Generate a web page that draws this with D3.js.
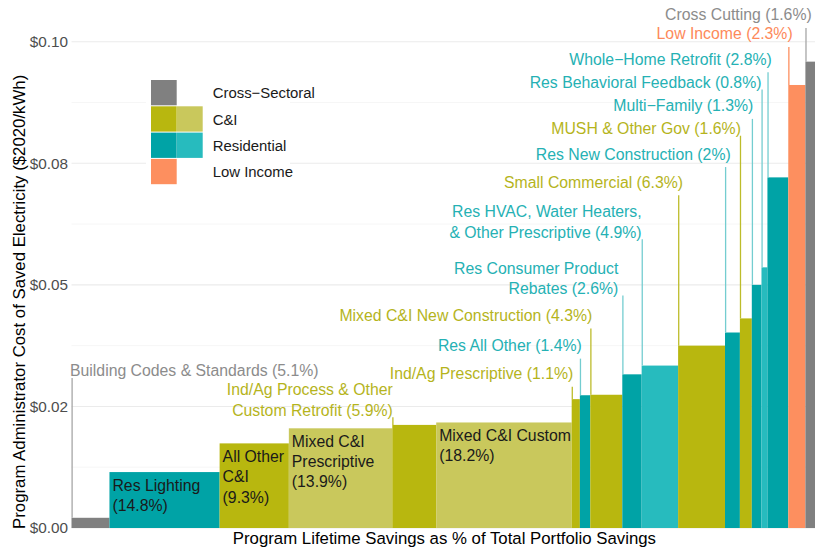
<!DOCTYPE html>
<html>
<head>
<meta charset="utf-8">
<script src="https://cdn.jsdelivr.net/npm/d3@7"></script>
<style>
  body { margin: 0; background: #fff; }
  text { font-family: "Liberation Sans", Arial, Helvetica, sans-serif; }
</style>
</head>
<body>
<svg id="chart" width="815" height="548"></svg>
<script>
// programs, left to right (line breaks are where the label wraps)
const programs = [
  "Building Codes & Standards", "Res Lighting", "All Other\nC&I", "Mixed C&I\nPrescriptive",
  "Ind/Ag Process & Other\nCustom Retrofit", "Mixed C&I Custom", "Ind/Ag Prescriptive",
  "Res All Other", "Mixed C&I New Construction", "Res Consumer Product\nRebates",
  "Res HVAC, Water Heaters,\n& Other Prescriptive", "Small Commercial", "Res New Construction",
  "MUSH & Other Gov", "Multi\u2212Family", "Res Behavioral Feedback", "Whole\u2212Home Retrofit",
  "Low Income", "Cross Cutting"
];
const sectors = [
  "Cross-Sectoral", "Residential", "C&I", "C&I", "C&I", "C&I", "C&I", "Residential", "C&I",
  "Residential", "Residential", "C&I", "Residential", "C&I", "Residential", "Residential",
  "Residential", "Low Income", "Cross-Sectoral"
];
// share of lifetime savings (%)
const shares = [5.1, 14.8, 9.3, 13.9, 5.9, 18.2, 1.1, 1.4, 4.3, 2.6, 4.9, 6.3, 2, 1.6, 1.3, 0.8, 2.8, 2.3, 1.6];
// cost of saved electricity ($2020/kWh)
const costs = [0.0021, 0.0115, 0.0174, 0.0205, 0.0212, 0.0217, 0.0265, 0.0273, 0.0274, 0.0316,
  0.0334, 0.0375, 0.0402, 0.0431, 0.0500, 0.0536, 0.0721, 0.0911, 0.0959];

const tickValues = [0, 0.025, 0.05, 0.075, 0.1];
const tickLabels = ["$0.00", "$0.02", "$0.05", "$0.08", "$0.10"];
const legendKeys = ["Cross-Sectoral", "C&I", "Residential", "Low Income"];
const legendNames = ["Cross\u2212Sectoral", "C&I", "Residential", "Low Income"];

// label placement: level on the y scale (null = label inside the bar), horizontal nudge in px
const labelAt = [0.0323, null, null, null, 0.0284, null, 0.0317, 0.0375, 0.0437, 0.0534,
  0.0650, 0.0711, 0.0769, 0.0821, 0.0868, 0.0916, 0.0964, 0.1016, 0.1055];
const labelDx = [-1.5, 0, 0, 0, 0.5, 0, 1.6, 2, 2, -4, 0, 5, 5.7, 1, 1.5, 0, 4.3, 4.4, 6.3];

const dark = { "Cross-Sectoral": "#808080", "C&I": "#b8b70f", "Residential": "#00a3a6", "Low Income": "#fd8f5f" };
const light = { "Cross-Sectoral": "#808080", "C&I": "#c9c85c", "Residential": "#27bbbe", "Low Income": "#fd8f5f" };
const textCol = { "Cross-Sectoral": "#8c8c8c", "C&I": "#b5b41c", "Residential": "#25b1b4", "Low Income": "#fd8a5a" };
const lineCol = { "Cross-Sectoral": "#a6a6a6", "C&I": "#bdbc2a", "Residential": "#74cdd0", "Low Income": "#fd8f5f" };

const svg = d3.select("#chart");

let total = d3.sum(shares);
let x = d3.scaleLinear().domain([0, total]).range([71.5, 817.3]);
let y = d3.scaleLinear().domain([0, 0.1]).range([528, 41.7]);

let starts = [0].concat(Array.from(d3.cumsum(shares)).slice(0, -1));

// alternate shade inside runs of the same sector
let shade = [];
sectors.forEach((s, i) => {
  if (i > 0 && sectors[i - 1] == s) shade.push(!shade[i - 1]);
  else shade.push(false);
});

let data = programs.map((p, i) => ({
  name: p, sector: sectors[i], share: shares[i], cost: costs[i],
  x0: starts[i], light: shade[i], at: labelAt[i], dx: labelDx[i], idx: i
}));

// grid
let minor = d3.range(0.0125, 0.1, 0.025);
svg.append("g").selectAll("line").data(minor).enter().append("line")
  .attr("x1", x(0)).attr("x2", 815)
  .attr("y1", d => y(d)).attr("y2", d => y(d))
  .attr("stroke", "#f4f4f4").attr("stroke-width", 0.8);
svg.append("g").selectAll("line").data(tickValues).enter().append("line")
  .attr("x1", x(0)).attr("x2", 815)
  .attr("y1", d => y(d)).attr("y2", d => y(d))
  .attr("stroke", "#ebebeb").attr("stroke-width", 1.1);

// y axis
let yAxis = svg.append("g")
  .attr("transform", "translate(" + x(0) + ",0)")
  .call(d3.axisLeft(y).tickValues(tickValues).tickFormat((d, i) => tickLabels[i]).tickSize(0).tickPadding(3.5));
yAxis.select(".domain").remove();
yAxis.selectAll("text").attr("font-size", "15.3px").attr("fill", "#4d4d4d")
  .style("font-family", "'Liberation Sans', Arial, sans-serif");

// legend
let leg = svg.append("g");
leg.append("rect").attr("x", 146).attr("y", 73).attr("width", 144).attr("height", 117).attr("fill", "#fff");
legendKeys.forEach((k, i) => {
  let yy = 80 + i * 26.3;
  leg.append("rect").attr("x", 151).attr("y", yy).attr("width", 25.7).attr("height", 25.3).attr("fill", dark[k]);
  if (k == "C&I" || k == "Residential") {
    leg.append("rect").attr("x", 177).attr("y", yy).attr("width", 25.7).attr("height", 25.3).attr("fill", light[k]);
  }
  leg.append("text").attr("x", 212.7).attr("y", yy + 13).attr("dy", "0.35em")
    .attr("font-size", "14.9px").attr("fill", "#1a1a1a").text(legendNames[i]);
});

// bars
svg.append("g").selectAll("rect").data(data).enter().append("rect")
  .attr("x", d => x(d.x0))
  .attr("width", d => x(d.x0 + d.share) - x(d.x0))
  .attr("y", d => y(d.cost))
  .attr("height", d => y(0) - y(d.cost))
  .attr("fill", d => d.light ? light[d.sector] : dark[d.sector]);

// labels inside bars
let inside = data.filter(d => d.at == null);
inside.forEach(d => {
  let lines = (d.name + "\n(" + d.share + "%)").split("\n");
  let t = svg.append("text").attr("font-size", "15.8px").attr("fill", "#1a1a1a");
  lines.forEach((l, j) => {
    t.append("tspan").attr("x", x(d.x0) + 3).attr("y", y(d.cost) + 13 + j * 20.3)
      .attr("dy", "0.35em").text(l);
  });
});

// labels with leader lines
let outside = data.filter(d => d.at != null);
outside.forEach(d => {
  let lines = (d.name + " (" + d.share + "%)").split("\n");
  let lx = x(d.x0) + d.dx;
  let ly = y(d.at);
  let t = svg.append("text").attr("font-size", "15.8px").attr("fill", textCol[d.sector])
    .attr("text-anchor", d.idx == 0 ? "start" : "end");
  lines.forEach((l, j) => {
    t.append("tspan").attr("x", lx).attr("y", ly + j * 20.3).attr("dy", "0.35em").text(l);
  });
  let gap = (d.dx > 1.2 && d.idx != 0) ? 13 : 7;
  svg.append("line")
    .attr("x1", x(d.x0) + 0.6).attr("x2", x(d.x0) + 0.6)
    .attr("y1", ly + (lines.length - 1) * 20.3 + gap)
    .attr("y2", y(d.cost))
    .attr("stroke", lineCol[d.sector]).attr("stroke-width", 1.3);
});

// axis titles
svg.append("text")
  .attr("x", (x(0) + x(total)) / 2).attr("y", 537.7).attr("dy", "0.35em")
  .attr("text-anchor", "middle").attr("font-size", "16.8px").attr("fill", "#000")
  .text("Program Lifetime Savings as % of Total Portfolio Savings");

svg.append("text")
  .attr("transform", "translate(19," + (y(0.0465)) + ") rotate(-90)")
  .attr("dy", "0.35em")
  .attr("text-anchor", "middle").attr("font-size", "16.8px").attr("fill", "#000")
  .text("Program Administrator Cost of Saved Electricity ($2020/kWh)");
</script>
</body>
</html>
